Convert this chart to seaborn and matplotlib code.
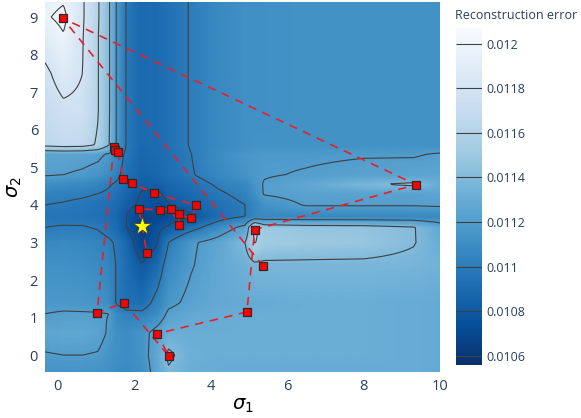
import numpy as np
import matplotlib
matplotlib.use("Agg")
import matplotlib.pyplot as plt
import seaborn as sns

# ---------------- data ----------------
sigma1_grid = [-0.33, 0.15, 0.65, 1.05, 1.35, 1.55, 1.8, 2.2, 2.6, 2.9, 3.5, 4.2, 4.9, 5.15, 5.4, 6.5, 8.0, 9.3, 10.0]
# rows listed from top (sigma2 = 9.4) to bottom (sigma2 = -0.45)
sigma2_grid = [9.4, 9.0, 8.5, 7.5, 6.5, 5.6, 5.35, 4.8, 4.55, 4.3, 4.0, 3.7, 3.4, 3.0, 2.4, 1.4, 1.1, 0.6, 0.0, -0.45]
# reconstruction error in units of 1e-2
error_rows = [
    [1.195, 1.199, 1.182, 1.162, 1.141, 1.118, 1.099, 1.089, 1.091, 1.094, 1.101, 1.108, 1.112, 1.112, 1.112, 1.113, 1.113, 1.113, 1.113],
    [1.198, 1.204, 1.182, 1.162, 1.141, 1.118, 1.099, 1.089, 1.091, 1.094, 1.101, 1.108, 1.112, 1.112, 1.112, 1.113, 1.113, 1.113, 1.113],
    [1.190, 1.199, 1.181, 1.161, 1.141, 1.118, 1.099, 1.089, 1.091, 1.094, 1.101, 1.108, 1.112, 1.112, 1.112, 1.113, 1.113, 1.113, 1.113],
    [1.176, 1.188, 1.180, 1.161, 1.141, 1.118, 1.099, 1.089, 1.091, 1.094, 1.101, 1.108, 1.112, 1.112, 1.112, 1.113, 1.113, 1.113, 1.113],
    [1.170, 1.176, 1.176, 1.161, 1.141, 1.118, 1.099, 1.089, 1.091, 1.094, 1.101, 1.108, 1.112, 1.112, 1.112, 1.113, 1.113, 1.113, 1.113],
    [1.165, 1.168, 1.167, 1.158, 1.140, 1.118, 1.099, 1.089, 1.091, 1.094, 1.101, 1.108, 1.112, 1.113, 1.113, 1.113, 1.113, 1.113, 1.113],
    [1.125, 1.126, 1.125, 1.123, 1.118, 1.108, 1.097, 1.088, 1.090, 1.093, 1.100, 1.110, 1.116, 1.117, 1.118, 1.118, 1.119, 1.119, 1.121],
    [1.121, 1.120, 1.118, 1.115, 1.110, 1.103, 1.094, 1.086, 1.088, 1.092, 1.099, 1.107, 1.114, 1.117, 1.119, 1.121, 1.124, 1.125, 1.126],
    [1.111, 1.110, 1.108, 1.105, 1.101, 1.098, 1.091, 1.083, 1.084, 1.088, 1.094, 1.102, 1.108, 1.115, 1.121, 1.127, 1.138, 1.143, 1.130],
    [1.104, 1.103, 1.102, 1.100, 1.098, 1.094, 1.088, 1.079, 1.077, 1.085, 1.090, 1.098, 1.104, 1.112, 1.121, 1.124, 1.124, 1.124, 1.125],
    [1.100, 1.099, 1.097, 1.095, 1.093, 1.090, 1.084, 1.077, 1.073, 1.079, 1.086, 1.094, 1.100, 1.106, 1.113, 1.121, 1.121, 1.121, 1.122],
    [1.097, 1.096, 1.095, 1.094, 1.092, 1.089, 1.080, 1.067, 1.070, 1.072, 1.078, 1.092, 1.100, 1.106, 1.108, 1.108, 1.108, 1.108, 1.108],
    [1.100, 1.101, 1.101, 1.099, 1.095, 1.090, 1.080, 1.062, 1.077, 1.082, 1.094, 1.110, 1.125, 1.166, 1.150, 1.147, 1.146, 1.141, 1.128],
    [1.107, 1.108, 1.107, 1.105, 1.102, 1.098, 1.090, 1.068, 1.079, 1.100, 1.118, 1.126, 1.140, 1.161, 1.152, 1.150, 1.148, 1.141, 1.131],
    [1.112, 1.112, 1.111, 1.109, 1.105, 1.099, 1.092, 1.081, 1.090, 1.108, 1.119, 1.128, 1.133, 1.137, 1.137, 1.137, 1.137, 1.136, 1.134],
    [1.117, 1.117, 1.116, 1.114, 1.110, 1.098, 1.094, 1.092, 1.105, 1.116, 1.124, 1.128, 1.129, 1.130, 1.130, 1.131, 1.131, 1.130, 1.129],
    [1.120, 1.121, 1.121, 1.121, 1.120, 1.108, 1.103, 1.103, 1.110, 1.123, 1.128, 1.130, 1.131, 1.131, 1.131, 1.131, 1.131, 1.130, 1.129],
    [1.126, 1.127, 1.127, 1.125, 1.118, 1.112, 1.110, 1.115, 1.125, 1.132, 1.131, 1.131, 1.131, 1.131, 1.131, 1.131, 1.131, 1.130, 1.129],
    [1.119, 1.120, 1.120, 1.119, 1.114, 1.112, 1.110, 1.114, 1.128, 1.143, 1.132, 1.131, 1.131, 1.131, 1.131, 1.131, 1.131, 1.130, 1.129],
    [1.114, 1.114, 1.114, 1.113, 1.112, 1.110, 1.108, 1.112, 1.126, 1.138, 1.131, 1.130, 1.130, 1.130, 1.130, 1.130, 1.130, 1.130, 1.129],
]
error_scale = 1e-2

# optimisation path (evaluated points, in order)
path_sigma1 = [5.38, 0.13, 9.37, 5.15, 4.95, 2.60, 2.91, 1.73, 1.03, 1.47, 1.51, 1.57, 1.72, 1.94, 2.53,
               3.63, 3.49, 3.16, 3.17, 2.96, 2.67, 2.12, 2.21, 2.33]
path_sigma2 = [2.36, 8.97, 4.54, 3.34, 1.15, 0.57, -0.03, 1.40, 1.12, 5.54, 5.46, 5.40, 4.70, 4.57, 4.31,
               3.99, 3.64, 3.75, 3.46, 3.89, 3.87, 3.89, 3.45, 2.72]
best_sigma1 = [2.21]
best_sigma2 = [3.45]

cbar_ticks = [0.0106, 0.0108, 0.011, 0.0112, 0.0114, 0.0116, 0.0118, 0.012]
cbar_labels = ["0.0106", "0.0108", "0.011", "0.0112", "0.0114", "0.0116", "0.0118", "0.012"]
zmin, zmax = 0.01056, 0.01207

# ---------------- style ----------------
sns.set_style("white")
plt.rcParams["font.family"] = ["Open Sans", "DejaVu Sans"]
text_col = "#2a3f5f"

fig = plt.figure(figsize=(5.81, 4.18), dpi=100)
ax = fig.add_axes([0.0775, 0.110, 0.680, 0.885])
cax = fig.add_axes([0.785, 0.127, 0.045, 0.806])

gx = np.array(sigma1_grid)
gy = np.array(sigma2_grid)[::-1]
Z = np.array(error_rows)[::-1] * error_scale

# bilinear display smoothing of the grid (like a smoothed heatmap)
fx = np.linspace(gx[0], gx[-1], 420)
fy = np.linspace(gy[0], gy[-1], 400)
Zr = np.array([np.interp(fx, gx, row) for row in Z])
Zf = np.array([np.interp(fy, gy, Zr[:, j]) for j in range(Zr.shape[1])]).T
FX, FY = np.meshgrid(fx, fy)

ax.pcolormesh(FX, FY, Zf, shading="gouraud", cmap="Blues_r", vmin=zmin, vmax=zmax, rasterized=True)
ax.contour(FX, FY, Zf, levels=cbar_ticks, colors="#404040", linewidths=0.8)

sns.lineplot(x=path_sigma1, y=path_sigma2, sort=False, estimator=None, ax=ax,
             color="#e8202a", linewidth=1.2, linestyle=(0, (5, 4)), zorder=4)
sq1 = [v for i, v in enumerate(path_sigma1) if i != 22]
sq2 = [v for i, v in enumerate(path_sigma2) if i != 22]
sns.scatterplot(x=sq1, y=sq2, marker="s", s=38, color="#ff0000", edgecolor="#2b2b2b",
                linewidth=0.9, ax=ax, zorder=5)
sns.scatterplot(x=best_sigma1, y=best_sigma2, marker="*", s=190, color="#ffff00", edgecolor="#444444",
                linewidth=0.6, ax=ax, zorder=6)

ax.set_xlim(-0.33, 10.0)
ax.set_ylim(-0.45, 9.4)
ax.set_xticks([0, 2, 4, 6, 8, 10])
ax.set_yticks(range(0, 10))
for s in ax.spines.values():
    s.set_visible(False)
ax.tick_params(length=0, labelsize=10.5, labelcolor=text_col, pad=5)
ax.set_xlabel(r"$\sigma_1$", fontsize=14, color="black", labelpad=2)
ax.set_ylabel(r"$\sigma_2$", fontsize=14, color="black", labelpad=4)

# colorbar
sm = matplotlib.cm.ScalarMappable(norm=matplotlib.colors.Normalize(zmin, zmax), cmap="Blues_r")
cb = fig.colorbar(sm, cax=cax)
cb.outline.set_visible(False)
cb.set_ticks(cbar_ticks)
cb.set_ticklabels(cbar_labels)
cax.tick_params(length=0, labelsize=9, labelcolor=text_col, pad=3)
cax.hlines(cbar_ticks, 0, 1, colors="#404040", linewidth=0.8, transform=cax.get_yaxis_transform())
fig.text(0.783, 0.962, "Reconstruction error", fontsize=9, color=text_col, ha="left", va="center")

fig.savefig("out.png", dpi=100)
